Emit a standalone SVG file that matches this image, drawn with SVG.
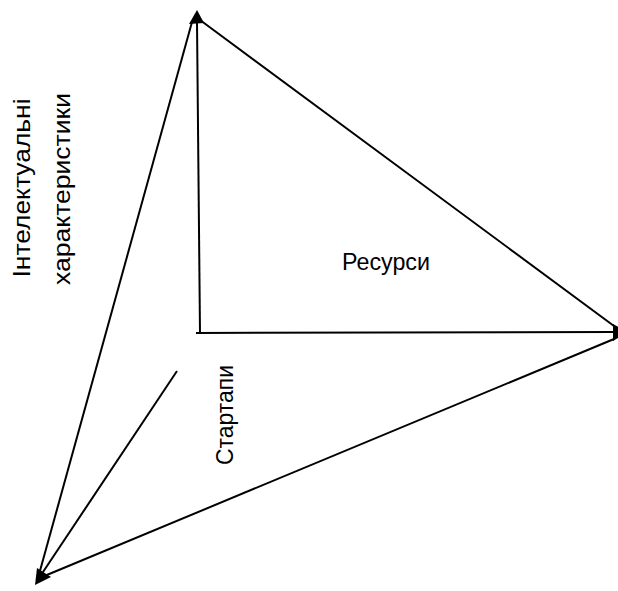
<svg xmlns="http://www.w3.org/2000/svg" width="618" height="591" viewBox="0 0 618 591">
<style>
.ln{stroke:#000;stroke-width:2;fill:none}
.ah{fill:#000;stroke:none}
.t{font-family:"Liberation Sans",Arial,sans-serif;font-size:23px;fill:#000}
</style>
<rect width="618" height="591" fill="#fff"/>
<g id="connectors">
<line class="ln" x1="197" y1="22" x2="200" y2="333"/>
<line class="ln" x1="196" y1="333" x2="614" y2="332"/>
<line class="ln" x1="200" y1="20" x2="614" y2="326"/>
<line class="ln" x1="614" y1="339" x2="42" y2="577"/>
<line class="ln" x1="192" y1="22" x2="38" y2="578"/>
<line class="ln" x1="177" y1="371" x2="41" y2="575"/>
<polygon class="ah" points="197,10 189,24 204,23"/>
<polygon class="ah" points="613,324 613,341 628,332"/>
<polygon class="ah" points="35,585 37,568 51,577"/>
</g>
<g id="node-intelektualni">
<text class="t" transform="translate(30,188) rotate(-90)" text-anchor="middle" textLength="179" lengthAdjust="spacingAndGlyphs">Інтелектуальні</text>
<text class="t" transform="translate(70,189) rotate(-90)" text-anchor="middle" textLength="192" lengthAdjust="spacingAndGlyphs">характеристики</text>
</g>
<g id="node-resursy">
<text class="t" x="342" y="270" textLength="88" lengthAdjust="spacingAndGlyphs">Ресурси</text>
</g>
<g id="node-startapy">
<text class="t" transform="translate(233,465) rotate(-90)" textLength="100" lengthAdjust="spacingAndGlyphs">Стартапи</text>
</g>
</svg>
